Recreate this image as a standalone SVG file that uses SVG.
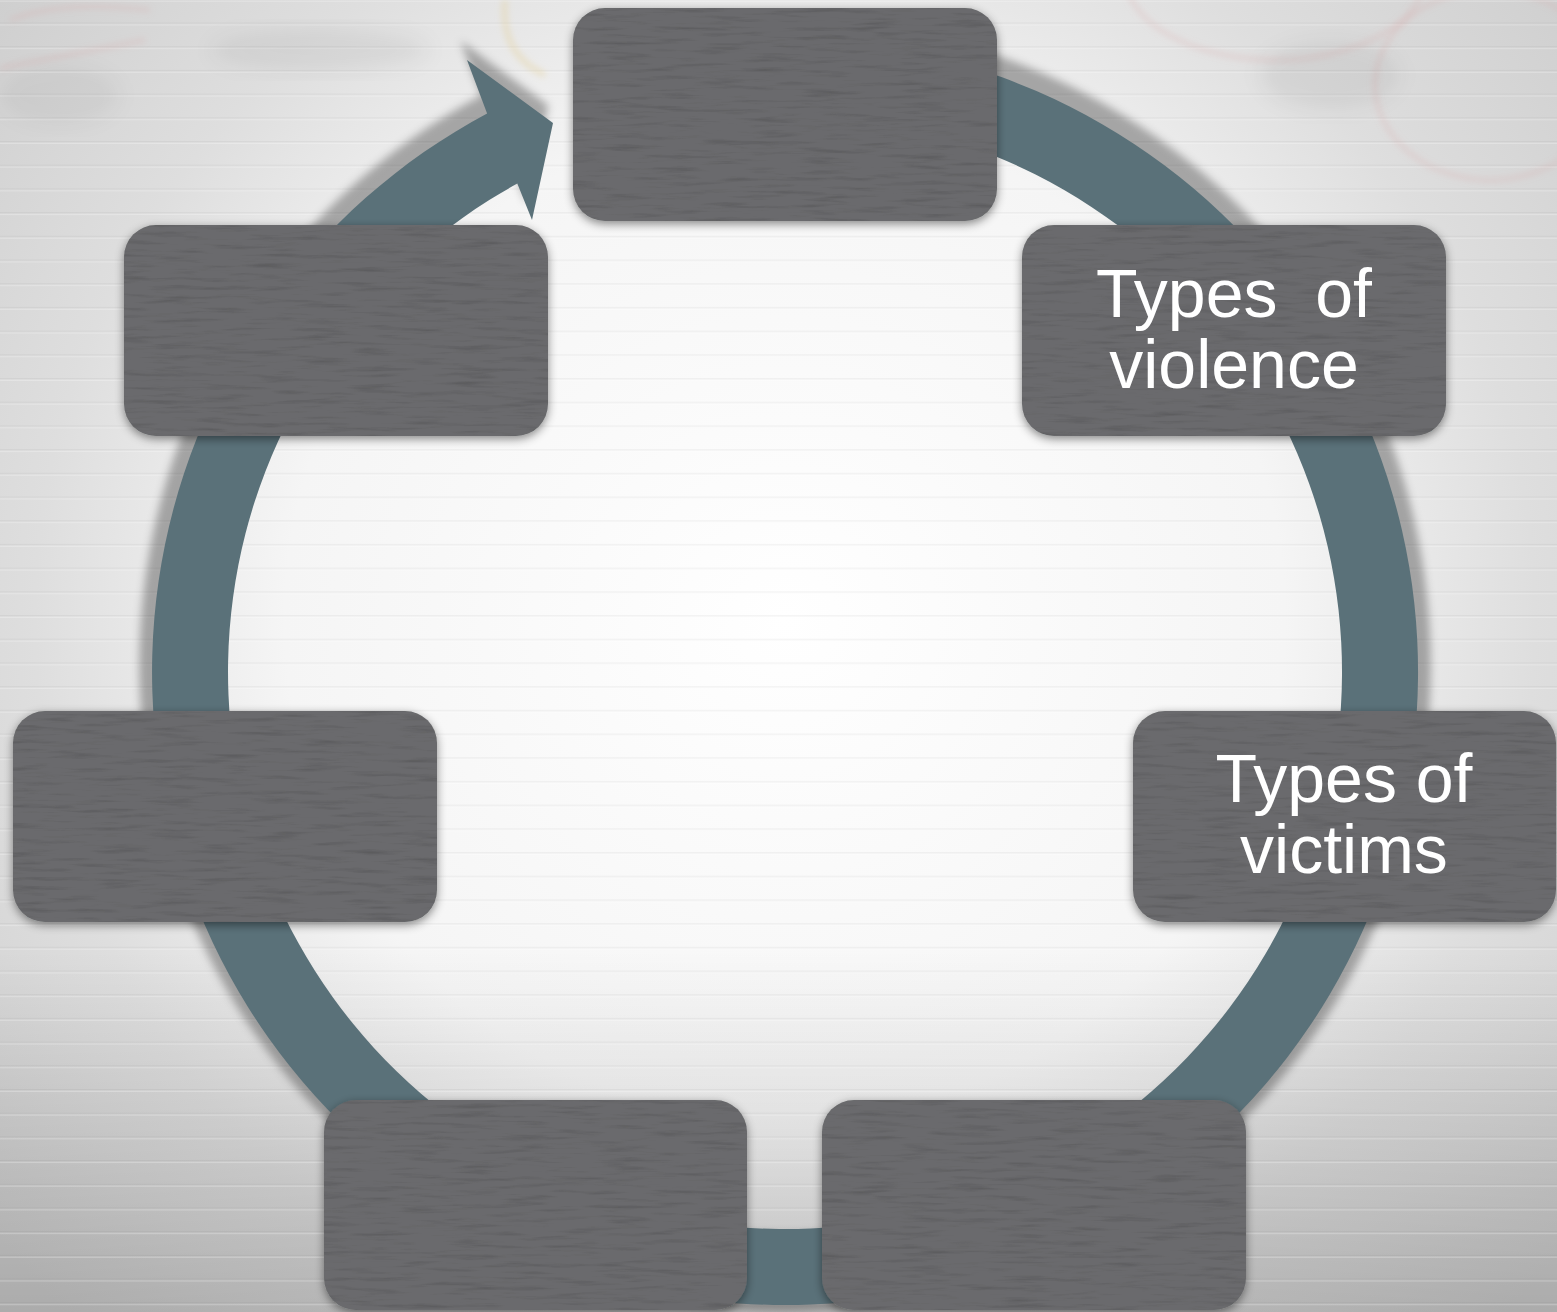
<svg xmlns="http://www.w3.org/2000/svg" width="1557" height="1312" viewBox="0 0 1557 1312">
<style>
.node rect{fill:#6a6b6d}
.lbl{font-family:"Liberation Sans",Arial,sans-serif;font-size:68px;fill:#ffffff;text-anchor:middle;white-space:pre}
.stamp{fill:none;stroke:#d89a9a;stroke-opacity:.25;stroke-width:4}
</style>
<defs>
<radialGradient id="bg" gradientUnits="userSpaceOnUse" cx="785" cy="620" r="1000">
<stop offset="0" stop-color="#ffffff"/>
<stop offset="0.5" stop-color="#f5f5f5"/>
<stop offset="0.75" stop-color="#dedede"/>
<stop offset="1" stop-color="#cfcfcf"/>
</radialGradient>
<linearGradient id="bot" gradientUnits="userSpaceOnUse" x1="0" y1="950" x2="0" y2="1312">
<stop offset="0" stop-color="#000" stop-opacity="0"/>
<stop offset="1" stop-color="#000" stop-opacity="0.17"/>
</linearGradient>
<pattern id="lines" patternUnits="userSpaceOnUse" width="1557" height="23.7" y="22.5">
<rect x="0" y="0" width="1557" height="1.6" fill="#000" fill-opacity="0.04"/>
<rect x="0" y="1.6" width="1557" height="1" fill="#fff" fill-opacity="0.4"/>
</pattern>
<filter id="blur" x="-10%" y="-10%" width="120%" height="120%">
<feGaussianBlur stdDeviation="4"/>
</filter>
<filter id="soft" x="-20%" y="-20%" width="140%" height="140%">
<feGaussianBlur stdDeviation="3"/>
</filter>
<filter id="soft2" x="-20%" y="-20%" width="140%" height="140%">
<feGaussianBlur stdDeviation="10"/>
</filter>
<filter id="shadow" x="-10%" y="-10%" width="120%" height="125%">
<feDropShadow dx="0" dy="3" stdDeviation="5" flood-color="#000" flood-opacity="0.45"/>
</filter>
<filter id="tex" x="0" y="0" width="1" height="1">
<feTurbulence type="fractalNoise" baseFrequency="0.02 0.22" numOctaves="3" seed="7" result="n"/>
<feColorMatrix in="n" type="matrix" values="0 0 0 0 0  0 0 0 0 0  0 0 0 0 0  -0.6 0 0 0 0.3" result="dk"/>
<feComposite in="dk" in2="SourceGraphic" operator="in" result="d2"/>
<feMerge><feMergeNode in="SourceGraphic"/><feMergeNode in="d2"/></feMerge>
</filter>
</defs>

<g id="background">
<rect width="1557" height="1312" fill="url(#bg)"/>
<rect width="1557" height="1312" fill="url(#bot)"/>
<rect width="1557" height="1312" fill="url(#lines)"/>
<g id="stamps">
<g filter="url(#soft)">
<ellipse cx="1275" cy="-25" rx="150" ry="85" class="stamp"/>
<ellipse cx="1490" cy="85" rx="115" ry="95" class="stamp"/>
<path d="M0 68 Q70 55 145 40" class="stamp" stroke-width="6"/>
<path d="M10 20 Q60 0 150 10" class="stamp" stroke-width="8"/>
<path d="M505 0 Q500 55 545 75" fill="none" stroke="#e3cf98" stroke-opacity="0.4" stroke-width="6"/>
</g>
<ellipse cx="320" cy="50" rx="110" ry="22" fill="#000" fill-opacity="0.05" filter="url(#soft2)"/>
<ellipse cx="60" cy="95" rx="60" ry="30" fill="#000" fill-opacity="0.04" filter="url(#soft2)"/>
<ellipse cx="1330" cy="75" rx="70" ry="35" fill="#000" fill-opacity="0.05" filter="url(#soft2)"/>
</g>
</g>

<g id="connectors">
<path id="ring-shadow" transform="translate(785 1010) scale(1.02) translate(-785 -1010)" filter="url(#blur)" fill="#000" fill-opacity="0.3" d="M 894.9 48.6 A 633 633 0 1 1 487.1 113.5 L 467 60 L 553 123 L 532 220 L 517.3 183.6 A 557 557 0 1 0 881.7 123.5 Z"/>
<path id="ring" fill="#5a7179" d="M 894.9 48.6 A 633 633 0 1 1 487.1 113.5 L 467 60 L 553 123 L 532 220 L 517.3 183.6 A 557 557 0 1 0 881.7 123.5 Z"/>
</g>

<g id="node-top" class="node" filter="url(#shadow)">
<rect x="573" y="8" width="424" height="213" rx="32" filter="url(#tex)"/>
</g>
<g id="node-top-right" class="node" filter="url(#shadow)">
<rect x="1022" y="225" width="424" height="211" rx="32" filter="url(#tex)"/>
<text class="lbl" x="1234" y="317">Types  of</text>
<text class="lbl" x="1234" y="388">violence</text>
</g>
<g id="node-mid-right" class="node" filter="url(#shadow)">
<rect x="1133" y="711" width="423" height="211" rx="32" filter="url(#tex)"/>
<text class="lbl" x="1344" y="802">Types of</text>
<text class="lbl" x="1344" y="873">victims</text>
</g>
<g id="node-bottom-right" class="node" filter="url(#shadow)">
<rect x="822" y="1100" width="424" height="210" rx="32" filter="url(#tex)"/>
</g>
<g id="node-bottom-left" class="node" filter="url(#shadow)">
<rect x="324" y="1100" width="423" height="210" rx="32" filter="url(#tex)"/>
</g>
<g id="node-mid-left" class="node" filter="url(#shadow)">
<rect x="13" y="711" width="424" height="211" rx="32" filter="url(#tex)"/>
</g>
<g id="node-top-left" class="node" filter="url(#shadow)">
<rect x="124" y="225" width="424" height="211" rx="32" filter="url(#tex)"/>
</g>
</svg>
